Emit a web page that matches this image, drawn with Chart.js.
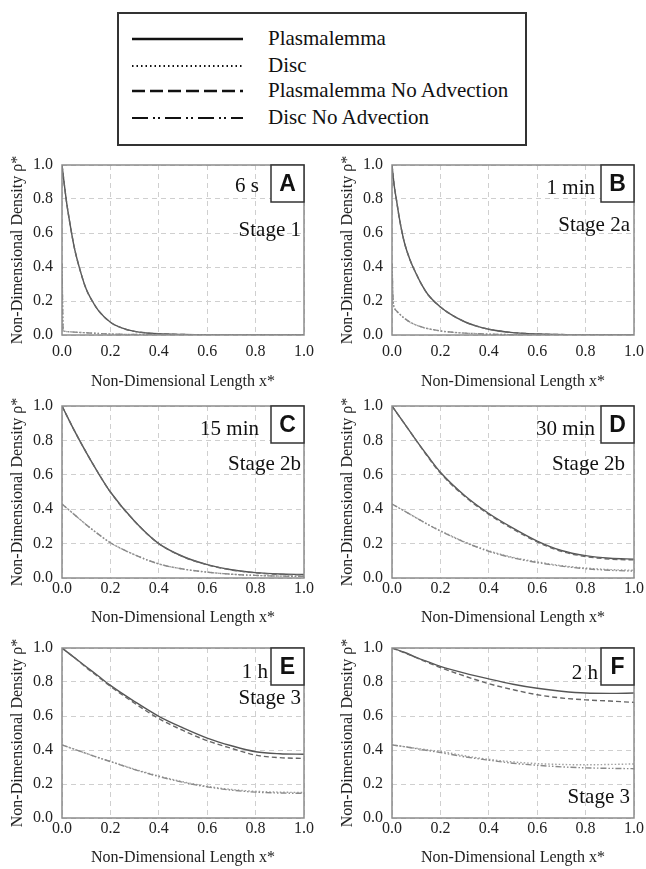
<!DOCTYPE html>
<html>
<head>
<meta charset="utf-8">
<script src="https://cdn.jsdelivr.net/npm/chart.js@4.4.1/dist/chart.umd.min.js"></script>
<style>
  html, body { margin: 0; padding: 0; background: #fff; }
  body { width: 646px; height: 869px; position: relative; overflow: hidden; font-family: "Liberation Serif", "DejaVu Serif", serif; }
  .legend { position: absolute; left: 117px; top: 12px; width: 406px; height: 130px; border: 2px solid #333; }
  .legend svg { position: absolute; left: 0; top: 0; }
  .legend .lbl { position: absolute; left: 149px; font-size: 21px; line-height: 21px; color: #111; white-space: nowrap; }
  canvas.panel { position: absolute; }
</style>
</head>
<body>
<div class="legend">
  <svg width="406" height="130">
    <line x1="13" y1="25" x2="124" y2="25" stroke="#111" stroke-width="2.5"/>
    <line x1="13" y1="52" x2="124" y2="52" stroke="#111" stroke-width="1.8" stroke-dasharray="1.5 3"/>
    <line x1="13" y1="77" x2="124" y2="77" stroke="#111" stroke-width="2.5" stroke-dasharray="13 5"/>
    <line x1="13" y1="104" x2="124" y2="104" stroke="#111" stroke-width="2.2" stroke-dasharray="16 5 2 3 2 5"/>
  </svg>
  <div class="lbl" style="top:13.5px">Plasmalemma</div>
  <div class="lbl" style="top:40.5px">Disc</div>
  <div class="lbl" style="top:65.5px">Plasmalemma No Advection</div>
  <div class="lbl" style="top:92.5px">Disc No Advection</div>
</div>
<script>
// x positions: dense near 0 for the short times (A, B), even spacing for the rest
const xFine = [0, 0.005, 0.01, 0.02, 0.03, 0.05, 0.075, 0.1, 0.125, 0.15, 0.2, 0.25, 0.3, 0.35, 0.4, 0.5, 0.6, 0.8, 1.0];
const xCoarse = [0, 0.05, 0.1, 0.15, 0.2, 0.3, 0.4, 0.5, 0.6, 0.7, 0.8, 0.9, 1.0];

const letters = ['A', 'B', 'C', 'D', 'E', 'F'];
const times = ['6 s', '1 min', '15 min', '30 min', '1 h', '2 h'];
const stages = ['Stage 1', 'Stage 2a', 'Stage 2b', 'Stage 2b', 'Stage 3', 'Stage 3'];
const yTicks = [0, 0.2, 0.4, 0.6, 0.8, 1.0];

// rows: A..F
const plasmalemma = [
  [1, 0.94, 0.88, 0.77, 0.68, 0.52, 0.38, 0.27, 0.2, 0.145, 0.075, 0.04, 0.021, 0.012, 0.007, 0.003, 0.001, 0, 0],
  [1, 0.93, 0.87, 0.78, 0.69, 0.55, 0.44, 0.36, 0.29, 0.235, 0.165, 0.115, 0.078, 0.052, 0.034, 0.014, 0.006, 0.001, 0],
  [1, 0.86, 0.73, 0.61, 0.5, 0.33, 0.2, 0.125, 0.078, 0.048, 0.031, 0.023, 0.02],
  [1, 0.9, 0.8, 0.705, 0.615, 0.48, 0.375, 0.29, 0.215, 0.16, 0.13, 0.115, 0.11],
  [1, 0.945, 0.89, 0.835, 0.78, 0.685, 0.598, 0.53, 0.47, 0.425, 0.39, 0.378, 0.375],
  [1, 0.975, 0.945, 0.918, 0.892, 0.852, 0.818, 0.787, 0.763, 0.746, 0.735, 0.733, 0.735]
];
const disc = [
  [0.42, 0.03, 0.022, 0.02, 0.019, 0.017, 0.015, 0.013, 0.011, 0.009, 0.006, 0.004, 0.003, 0.002, 0.001, 0, 0, 0, 0],
  [0.42, 0.2, 0.16, 0.14, 0.125, 0.1, 0.075, 0.058, 0.046, 0.037, 0.024, 0.016, 0.011, 0.008, 0.005, 0.002, 0.001, 0, 0],
  [0.43, 0.37, 0.31, 0.255, 0.205, 0.135, 0.082, 0.052, 0.034, 0.022, 0.015, 0.011, 0.01],
  [0.43, 0.39, 0.35, 0.31, 0.275, 0.21, 0.158, 0.12, 0.094, 0.072, 0.058, 0.049, 0.045],
  [0.43, 0.405, 0.38, 0.356, 0.333, 0.287, 0.247, 0.213, 0.186, 0.168, 0.157, 0.152, 0.15],
  [0.43, 0.42, 0.41, 0.4, 0.392, 0.366, 0.345, 0.33, 0.32, 0.315, 0.313, 0.315, 0.318]
];
const plasmalemmaNoAdv = [
  [1, 0.94, 0.88, 0.77, 0.68, 0.52, 0.38, 0.27, 0.2, 0.145, 0.075, 0.04, 0.021, 0.012, 0.007, 0.003, 0.001, 0, 0],
  [1, 0.93, 0.87, 0.78, 0.69, 0.55, 0.44, 0.36, 0.29, 0.235, 0.165, 0.115, 0.078, 0.052, 0.034, 0.014, 0.006, 0.001, 0],
  [1, 0.86, 0.73, 0.61, 0.5, 0.33, 0.2, 0.124, 0.077, 0.047, 0.03, 0.021, 0.018],
  [1, 0.9, 0.8, 0.7, 0.61, 0.475, 0.37, 0.285, 0.21, 0.155, 0.125, 0.11, 0.105],
  [1, 0.945, 0.885, 0.83, 0.775, 0.675, 0.585, 0.515, 0.455, 0.41, 0.37, 0.355, 0.35],
  [1, 0.973, 0.943, 0.913, 0.885, 0.835, 0.79, 0.755, 0.725, 0.706, 0.695, 0.688, 0.68]
];
const discNoAdv = [
  [0.42, 0.03, 0.022, 0.02, 0.019, 0.017, 0.015, 0.013, 0.011, 0.009, 0.006, 0.004, 0.003, 0.002, 0.001, 0, 0, 0, 0],
  [0.42, 0.2, 0.16, 0.14, 0.125, 0.1, 0.075, 0.058, 0.046, 0.037, 0.024, 0.016, 0.011, 0.008, 0.005, 0.002, 0.001, 0, 0],
  [0.43, 0.37, 0.31, 0.255, 0.205, 0.135, 0.082, 0.052, 0.034, 0.022, 0.015, 0.011, 0.01],
  [0.43, 0.39, 0.35, 0.31, 0.273, 0.208, 0.155, 0.117, 0.09, 0.069, 0.054, 0.045, 0.04],
  [0.43, 0.405, 0.38, 0.355, 0.332, 0.285, 0.244, 0.21, 0.183, 0.164, 0.152, 0.147, 0.145],
  [0.43, 0.42, 0.408, 0.396, 0.385, 0.36, 0.34, 0.322, 0.31, 0.301, 0.295, 0.292, 0.29]
];

// page layout: plot-area tops/heights per row, label offsets per panel
const colLeft = [0, 330];
const rowPlotTop = [165, 406, 648];
const rowPlotH = [170, 172, 170];
const rowXTickPad = [7, 1.5, 1.5];
const rowXTitlePad = [3.4, 10.4, 10.4];
const padTop = 19, padRight = 20, yAxisW = 62, xAxisH = 60, plotW = 242;
const decor = [
  { timeDx: 45, timeDy: 21, stageDx: 3, stageDy: 65 },
  { timeDx: 39, timeDy: 23, stageDx: 4, stageDy: 60 },
  { timeDx: 45, timeDy: 23, stageDx: 3, stageDy: 58 },
  { timeDx: 39, timeDy: 23, stageDx: 9, stageDy: 58 },
  { timeDx: 36, timeDy: 24, stageDx: 3, stageDy: 50 },
  { timeDx: 36, timeDy: 25, stageDx: 4, stageDy: 149 }
];

const serif = '"Liberation Serif", "DejaVu Serif", serif';

function pts(xs, ys) {
  return xs.map((x, i) => ({ x: x, y: ys[i] }));
}

function series(label, xs, ys, color, dash) {
  return {
    label: label,
    data: pts(xs, ys),
    borderColor: color,
    borderWidth: 1.4,
    borderDash: dash,
    pointRadius: 0,
    showLine: true,
    fill: false,
    cubicInterpolationMode: 'monotone'
  };
}

function buildPanels() {
  letters.forEach((letter, i) => {
    const row = Math.floor(i / 2), col = i % 2;
    const xs = i < 2 ? xFine : xCoarse;
    const canvas = document.createElement('canvas');
    canvas.className = 'panel';
    canvas.width = yAxisW + plotW + padRight;
    canvas.height = padTop + rowPlotH[row] + xAxisH;
    canvas.style.left = colLeft[col] + 'px';
    canvas.style.top = (rowPlotTop[row] - padTop) + 'px';
    document.body.appendChild(canvas);

    const d = decor[i];
    const panelDecor = {
      id: 'panelDecor' + letter,
      afterDraw(chart) {
        const { ctx, chartArea: a } = chart;
        ctx.save();
        ctx.strokeStyle = '#8c8c8c';
        ctx.lineWidth = 1.5;
        ctx.strokeRect(a.left, a.top, a.right - a.left, a.bottom - a.top);
        const bw = 33, bh = 37;
        const bx = a.right - bw, by = a.top;
        ctx.fillStyle = '#fff';
        ctx.fillRect(bx, by, bw, bh);
        ctx.strokeStyle = '#333';
        ctx.strokeRect(bx, by, bw, bh);
        ctx.fillStyle = '#111';
        ctx.font = 'bold 23px "Liberation Sans", Arial, sans-serif';
        ctx.textAlign = 'center';
        ctx.textBaseline = 'middle';
        ctx.fillText(letter, bx + bw / 2, by + bh / 2 + 1);
        ctx.font = '21px ' + serif;
        ctx.textAlign = 'right';
        ctx.fillText(times[i], a.right - d.timeDx, a.top + d.timeDy);
        ctx.fillText(stages[i], a.right - d.stageDx, a.top + d.stageDy);
        ctx.restore();
      }
    };

    new Chart(canvas, {
      type: 'scatter',
      data: {
        datasets: [
          series('Disc No Advection', xs, discNoAdv[i], '#8a8a8a', [6, 2, 1.5, 2, 1.5, 2]),
          series('Disc', xs, disc[i], '#a0a0a0', [1.5, 2]),
          series('Plasmalemma No Advection', xs, plasmalemmaNoAdv[i], '#666', [5, 3]),
          series('Plasmalemma', xs, plasmalemma[i], '#555', [])
        ]
      },
      options: {
        responsive: false,
        animation: false,
        devicePixelRatio: 1,
        layout: { padding: { left: 0, top: padTop, right: padRight, bottom: 0 } },
        plugins: { legend: { display: false }, tooltip: { enabled: false } },
        scales: {
          x: {
            type: 'linear',
            min: 0, max: 1,
            afterFit: s => { s.height = xAxisH; },
            ticks: {
              stepSize: 0.2,
              padding: rowXTickPad[row],
              color: '#222',
              font: { family: serif, size: 16 },
              callback: v => v.toFixed(1)
            },
            grid: { color: '#cfcfcf', drawTicks: false },
            border: { display: false, dash: [5, 4] },
            title: {
              display: true,
              text: 'Non-Dimensional Length x*',
              color: '#222',
              font: { family: serif, size: 16 },
              padding: { top: 0, bottom: rowXTitlePad[row] }
            }
          },
          y: {
            type: 'linear',
            min: 0, max: 1,
            afterFit: s => { s.width = yAxisW; },
            afterBuildTicks: s => { s.ticks = yTicks.map(v => ({ value: v })); },
            ticks: {
              padding: 9,
              color: '#222',
              font: { family: serif, size: 16 },
              callback: v => v.toFixed(1)
            },
            grid: { color: '#cfcfcf', drawTicks: false },
            border: { display: false, dash: [5, 4] },
            title: {
              display: true,
              text: 'Non-Dimensional Density ρ*',
              color: '#222',
              font: { family: serif, size: 16 },
              padding: { top: 8.4, bottom: 0 }
            }
          }
        }
      },
      plugins: [panelDecor]
    });
  });
}

// make sure the serif face is ready before the canvases paint text
Promise.all([
  document.fonts.load('16px "Liberation Serif"'),
  document.fonts.load('bold 23px "Liberation Sans"')
]).catch(() => {}).then(buildPanels);
</script>
</body>
</html>
